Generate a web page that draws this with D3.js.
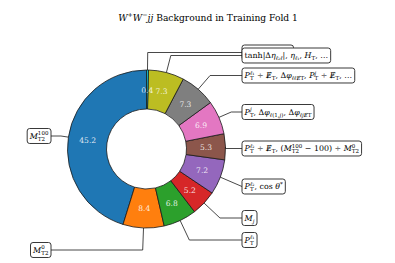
<!DOCTYPE html>
<html>
<head>
<meta charset="utf-8">
<script src="https://cdn.jsdelivr.net/npm/d3@7"></script>
<style>
  body { margin: 0; background: white; }
  text { font-family: 'DejaVu Serif', 'Liberation Serif', serif; white-space: pre; }
</style>
</head>
<body>
<script>
// Data (feature groups, share in %), matplotlib wedge order
let groups = [
  '$M$_{T2}^{100}',
  '$M$_{T2}^{0}',
  '$P$_{T}^{$ℓ$₁}',
  '$M$_{$j$}',
  '$P$_{T}^{$ℓ$₂}, cos $θ$^{*}',
  '$P$_{T}^{$ℓ$₂} ÷ $Ɇ$_{T}, ($M$_{T2}^{100} − 100) ÷ $M$_{T2}^{0}',
  '$P$_{T}^{$j$}, Δ$φ$_{$ℓ$(1,$j$)}, Δ$φ$_{$ℓjɆ$T}',
  '$P$_{T}^{$ℓ$₁} ÷ $Ɇ$_{T}, Δ$φ$_{$ℓℓɆ$T}, $P$_{T}^{$j$} ÷ $Ɇ$_{T}, …',
  'tanh|Δ$η$_{$ℓ$₂$ℓ$}|, $η$_{$ℓ$₁}, $H$_{T}, …',
  'Δ$R$_{$ℓℓ$}, $m$_{$ℓℓ$}, …'
];
let shares = [45.2, 8.4, 6.8, 5.2, 7.2, 5.3, 6.9, 7.3, 7.3, 0.4];
let colors = d3.schemeCategory10;

// label rows (layout only)
let labelY = [136, 250, 240, 218, 186.5, 148.5, 112, 75.5, 55.5, 52.5];

let width = 395, height = 263;
let cx = 146.5, cy = 149, R = 79, r = 40;
let fs = 7.9, pad = 2.6;

let svg = d3.select('body')
  .append('svg')
  .attr('width', width)
  .attr('height', height)
  .style('background', 'white');

// small helper to lay out "math" strings: $..$ italic, _{..} sub, ^{..} sup
function tokens(s) {
  let out = [], it = false, cur = { type: 'base', segs: [] };
  let push = ch => {
    let last = cur.segs[cur.segs.length - 1];
    if (last && last.it === it) last.t += ch; else cur.segs.push({ t: ch, it: it });
  };
  for (let i = 0; i < s.length; i++) {
    let c = s[i];
    if (c === '$') { it = !it; continue; }
    if ((c === '_' || c === '^') && s[i + 1] === '{') {
      out.push(cur);
      cur = { type: c === '_' ? 'sub' : 'sup', segs: [] };
      i++;
      continue;
    }
    if (c === '}' && cur.type !== 'base') { out.push(cur); cur = { type: 'base', segs: [] }; continue; }
    push(c);
  }
  out.push(cur);
  return out.filter(g => g.segs.length);
}

function drawMath(g, str, size) {
  let x = 0, prev = null;
  tokens(str).forEach(grp => {
    let s = grp.type === 'base' ? size : size * 0.7;
    let dy = grp.type === 'sub' ? size * 0.28 : grp.type === 'sup' ? -size * 0.4 : 0;
    let stacked = grp.type !== 'base' && prev && prev.type !== grp.type;
    let x0 = stacked ? prev.x0 : x;
    let t = g.append('text').attr('x', x0).attr('y', dy).style('font-size', s + 'px');
    grp.segs.forEach(sg => t.append('tspan').text(sg.t).style('font-style', sg.it ? 'italic' : 'normal'));
    let w = t.node().getComputedTextLength();
    if (stacked) { x = Math.max(x, x0 + w); prev = null; }
    else { x = x0 + w; prev = grp.type === 'base' ? null : { type: grp.type, x0: x0 }; }
  });
  return x;
}

// Title (fit to the reference span)
let titleStr = '$W$^{+}$W$^{−}$jj$ Background in Training Fold 1';
let probe = svg.append('g');
let tfs = 10 * 180 / drawMath(probe, titleStr, 10);
probe.remove();
let title = svg.append('g');
let tw = drawMath(title, titleStr, tfs);
title.attr('transform', `translate(${208 - tw / 2},21)`);

// Pie
let pie = d3.pie().sort(null).startAngle(0).endAngle(-2 * Math.PI);
let arcs = pie(shares);
let arc = d3.arc().innerRadius(r).outerRadius(R);
let mid = d3.arc().innerRadius((r + R) / 2).outerRadius((r + R) / 2);

let chart = svg.append('g').attr('transform', `translate(${cx},${cy})`);

chart.selectAll('path.wedge')
  .data(arcs)
  .enter()
  .append('path')
  .attr('class', 'wedge')
  .attr('d', arc)
  .attr('fill', (d, i) => colors[i])
  .attr('stroke', '#1a1a1a')
  .attr('stroke-width', 0.8);

chart.selectAll('.pct')
  .data(arcs)
  .enter()
  .append('text')
  .attr('x', d => mid.centroid(d)[0])
  .attr('y', d => mid.centroid(d)[1] + 3)
  .attr('text-anchor', 'middle')
  .style('font-size', '7.6px')
  .style('fill', 'white')
  .style('fill-opacity', 0.85)
  .text(d => d.data.toFixed(1));

// Leader lines + labelled boxes
let order = d3.range(arcs.length).reverse();
order.forEach(i => {
  let d = arcs[i];
  let a = (d.startAngle + d.endAngle) / 2;
  let sx = Math.sin(a), sy = -Math.cos(a);
  let px = cx + R * sx, py = cy + R * sy;
  let ly = labelY[i];
  let right = sx > 0;
  let edge = right ? 242 : 51;
  let t = Math.abs(sy) > 1e-6 ? (ly - cy) / sy : R;
  if (t < R) t = R;
  let qx = cx + t * sx;
  if (right ? qx > edge : qx < edge) qx = edge;

  svg.append('path')
    .attr('d', `M${px},${py}L${qx},${ly}L${edge},${ly}`)
    .attr('fill', 'none')
    .attr('stroke', '#1a1a1a')
    .attr('stroke-width', 0.8);

  let lab = svg.append('g');
  let box = lab.append('rect');
  let txt = lab.append('g');
  let w = drawMath(txt, groups[i], fs);
  let x0 = right ? edge : edge - w - 2 * pad;
  box.attr('x', 0).attr('y', -fs * 0.62 - pad)
    .attr('width', w + 2 * pad).attr('height', fs * 1.24 + 2 * pad)
    .attr('rx', 2.5)
    .attr('fill', 'white')
    .attr('stroke', '#222')
    .attr('stroke-width', 0.9);
  txt.attr('transform', `translate(${pad},${fs * 0.33})`);
  lab.attr('transform', `translate(${x0},${ly})`);
});
</script>
</body>
</html>
